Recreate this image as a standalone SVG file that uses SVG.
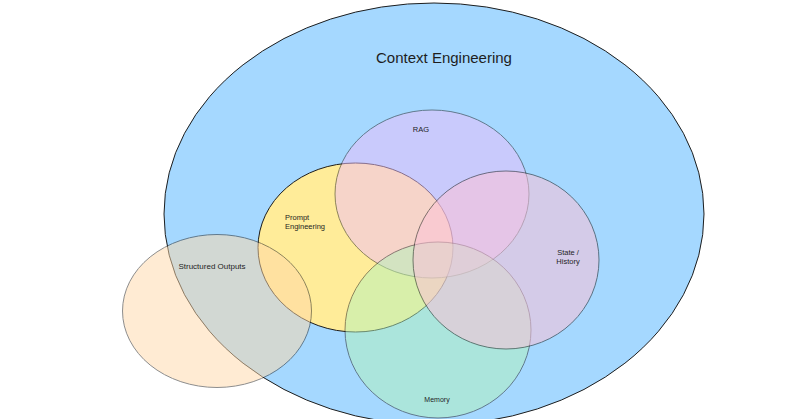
<svg xmlns="http://www.w3.org/2000/svg" width="800" height="419" viewBox="0 0 800 419">
  <style>
    .shape { stroke: #1e1e1e; stroke-width: 1; }
    .lbl { font-family: "Liberation Sans", "DejaVu Sans", sans-serif; fill: #1e1e1e; }
  </style>
  <rect width="800" height="419" fill="#ffffff"/>
  <g id="context-engineering">
    <ellipse class="shape" cx="434" cy="214" rx="270" ry="211" fill="#a5d8ff"/>
    <text class="lbl" x="444" y="63" font-size="15" text-anchor="middle">Context Engineering</text>
  </g>
  <g id="prompt-engineering">
    <ellipse class="shape" cx="355.5" cy="247.5" rx="97.5" ry="84.5" fill="#ffec99"/>
    <text class="lbl" x="285" y="220" font-size="7.5">Prompt</text>
    <text class="lbl" x="285" y="229" font-size="7.5">Engineering</text>
  </g>
  <g id="rag">
    <ellipse class="shape" cx="432" cy="194" rx="97" ry="84" fill="#eebefa" opacity="0.5"/>
    <text class="lbl" x="421" y="132" font-size="7.5" text-anchor="middle">RAG</text>
  </g>
  <g id="memory">
    <ellipse class="shape" cx="438" cy="330" rx="93" ry="88" fill="#b2f2bb" opacity="0.5"/>
    <text class="lbl" x="437" y="402" font-size="7" text-anchor="middle">Memory</text>
  </g>
  <g id="state-history">
    <ellipse class="shape" cx="506" cy="260" rx="93" ry="89" fill="#fcc2d7" opacity="0.55"/>
    <text class="lbl" x="568" y="255" font-size="7.5" text-anchor="middle">State /</text>
    <text class="lbl" x="568" y="264" font-size="7.5" text-anchor="middle">History</text>
  </g>
  <g id="structured-outputs">
    <ellipse class="shape" cx="217" cy="311" rx="94.5" ry="76.5" fill="#ffd8a8" opacity="0.5"/>
    <text class="lbl" x="212" y="269" font-size="8" text-anchor="middle">Structured Outputs</text>
  </g>
  <g id="connectors"/>
</svg>
